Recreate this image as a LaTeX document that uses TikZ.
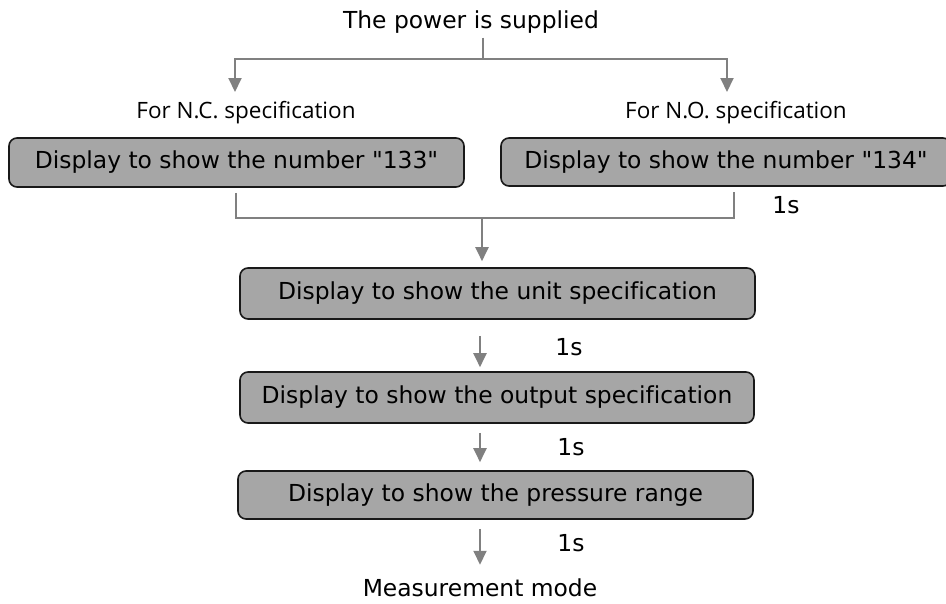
\documentclass[tikz,border=0pt]{standalone}
\usepackage{fontspec}
\setmainfont{DejaVu Sans}[Ligatures={TeXOff,NoCommon}]
\newfontfamily\specfont{Open Sans}[Ligatures=NoCommon]
\usetikzlibrary{arrows.meta}
\definecolor{boxgray}{RGB}{166,166,166}
\definecolor{wiregray}{RGB}{128,128,128}
\tikzset{
  stepbox/.style={draw=black!90,line width=1.6pt,fill=boxgray,rounded corners=8pt,
    inner sep=0pt,font=\fontsize{23.4}{26}\selectfont},
  plain/.style={inner sep=0pt,font=\fontsize{23.4}{26}\selectfont},
  speclabel/.style={inner sep=0pt,font=\specfont\fontsize{22.5}{25}\selectfont},
  wire/.style={draw=wiregray,line width=2pt},
  flow/.style={wire,-{Triangle[width=13pt,length=14pt]}}
}

\begin{document}
\begin{tikzpicture}[x=1pt,y=-1pt]
\useasboundingbox (0,0) rectangle (946,603);
% Drawing the texts and boxes
\node[plain] (power) at (471,22) {The power is supplied};
\node[speclabel] (nc) at (246,113) {For N.C. specification};
\node[speclabel] (no) at (736,113) {For N.O. specification};
\node[stepbox,minimum width=455pt,minimum height=49pt] (b133) at (236.5,162.5) {Display to show the number "133"};
\node[stepbox,minimum width=450pt,minimum height=48pt] (b134) at (726,162) {Display to show the number "134"};
\node[stepbox,minimum width=515pt,minimum height=51pt] (unit) at (497.5,293.5) {Display to show the unit specification};
\node[stepbox,minimum width=514pt,minimum height=51pt] (output) at (497,397.5) {Display to show the output specification};
\node[stepbox,minimum width=515pt,minimum height=48pt] (pressure) at (495.5,495) {Display to show the pressure range};
\node[plain] (mode) at (480,588) {Measurement mode};
% Done with boxes; drawing the times
\node[plain] (t1) at (786,205) {1s};
\node[plain] (t2) at (569,347) {1s};
\node[plain] (t3) at (571,447) {1s};
\node[plain] (t4) at (571,543) {1s};
% Junction points
\coordinate (split) at (483,59);
\coordinate (ncin) at (235,92);
\coordinate (noin) at (727,92);
\coordinate (join) at (482,218);
\coordinate (ncout) at (236,218);
\coordinate (noout) at (734,218);
% Drawing connectors
\draw[wire] (power.south -| split) ++(0,4) -- (split);
\draw[flow] (split) -| (ncin);
\draw[flow] (split) -| (noin);
\draw[wire] ([yshift=-5pt]b133.south -| ncout) -- (ncout) -- (noout) -- ([yshift=-5pt]b134.south -| noout);
\draw[flow,shorten >=6pt] (join) -- (unit.north -| join);
\draw[flow,shorten <=16pt,shorten >=4pt] (unit.south -| mode) -- (output.north -| mode);
\draw[flow,shorten <=9pt,shorten >=8pt] (output.south -| mode) -- (pressure.north -| mode);
\draw[flow,shorten <=9pt,shorten >=14pt] (pressure.south -| mode) -- (mode.north);
% Done with connectors
\end{tikzpicture}
\end{document}
